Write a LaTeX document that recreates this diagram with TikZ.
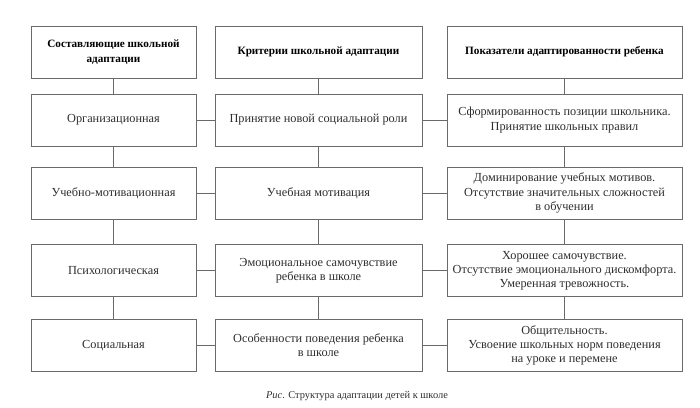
\documentclass[tikz,border=0pt]{standalone}
\usepackage{fontspec}
\setmainfont{Liberation Serif}
\definecolor{linegray}{HTML}{6A6A6A}
\definecolor{textgray}{HTML}{2E2E2E}
\begin{document}
\begin{tikzpicture}[x=1pt,y=-1pt,
  main node/.style={rectangle,draw=linegray,line width=0.9pt,text=textgray,align=center,
    minimum height=52pt,inner sep=2pt,font=\fontsize{12.3}{14.2}\selectfont},
  head node/.style={main node,font=\fontsize{11.2}{14.3}\selectfont\bfseries,text=black},
  one/.style={minimum width=165pt},
  two/.style={minimum width=207pt},
  three/.style={minimum width=235pt}]
  \useasboundingbox (0,0) rectangle (700,407);

  \node[head node,one] (a0) at (113.5,52) {Составляющие школьной\\адаптации};
  \node[head node,two] (b0) at (318.5,52) {Критерии школьной адаптации};
  \node[head node,three] (c0) at (564.5,52) {Показатели адаптированности ребенка};

  \node[main node,one] (a1) at (113.5,120) {Организационная};
  \node[main node,one] (a2) at (113.5,193) {Учебно-мотивационная};
  \node[main node,one] (a3) at (113.5,270.5) {Психологическая};
  \node[main node,one] (a4) at (113.5,345.5) {Социальная};

  \node[main node,two] (b1) at (318.5,120) {Принятие новой социальной роли};
  \node[main node,two] (b2) at (318.5,193) {Учебная мотивация};
  \node[main node,two] (b3) at (318.5,270.5) {Эмоциональное самочувствие\\ребенка в школе};
  \node[main node,two] (b4) at (318.5,345.5) {Особенности поведения ребенка\\в школе};

  \node[main node,three] (c1) at (564.5,120) {Сформированность позиции школьника.\\Принятие школьных правил};
  \node[main node,three] (c2) at (564.5,193) {Доминирование учебных мотивов.\\Отсутствие значительных сложностей\\в обучении};
  \node[main node,three] (c3) at (564.5,270.5) {Хорошее самочувствие.\\Отсутствие эмоционального дискомфорта.\\Умеренная тревожность.};
  \node[main node,three] (c4) at (564.5,345.5) {Общительность.\\Усвоение школьных норм поведения\\на уроке и перемене};

  \node[text=textgray,font=\fontsize{10.4}{12}\selectfont] (cap) at (357,396) {\textit{Рис}. Структура адаптации детей к школе};

 \path[draw=linegray,line width=0.9pt]
 (a0) edge (a1)
 (a1) edge (a2)
 (a2) edge (a3)
 (a3) edge (a4)
 (b0) edge (b1)
 (b1) edge (b2)
 (b2) edge (b3)
 (b3) edge (b4)
 (c0) edge (c1)
 (c1) edge (c2)
 (c2) edge (c3)
 (c3) edge (c4)
 (a1) edge (b1)
 (a2) edge (b2)
 (a3) edge (b3)
 (a4) edge (b4)
 (b1) edge (c1)
 (b2) edge (c2)
 (b3) edge (c3)
 (b4) edge (c4);

\end{tikzpicture}
\end{document}
